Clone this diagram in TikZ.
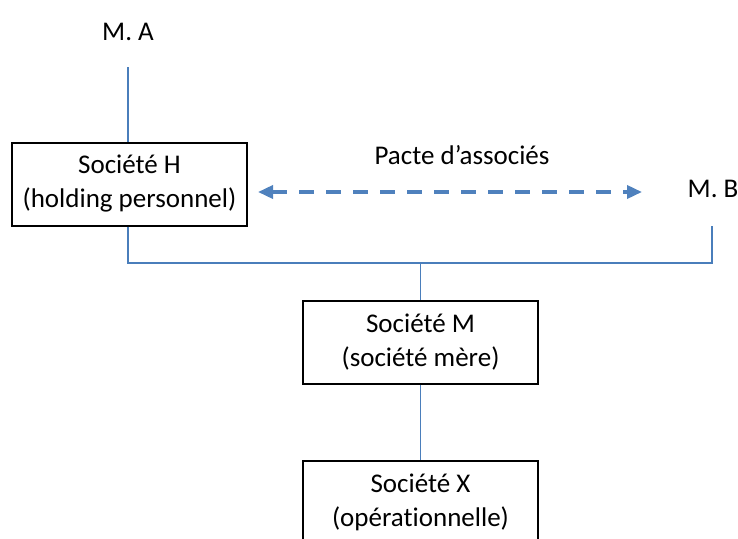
\documentclass[tikz,border=0pt]{standalone}
\usepackage{fontspec}
\setmainfont{Carlito}[Ligatures={NoCommon}]
\usetikzlibrary{arrows.meta}
\definecolor{lineblue}{HTML}{4A7EBB}
\definecolor{arrblue}{HTML}{4F81BD}
\begin{document}
\begin{tikzpicture}[x=1pt,y=-1pt,
  every node/.style={font=\fontsize{27}{34}\selectfont, align=center, inner sep=0pt},
  box/.style={draw=black, line width=2pt, minimum width=235pt, minimum height=83pt},
  conn/.style={draw=lineblue, line width=1.6pt},
  pacte/.style={draw=arrblue, line width=3.5pt, dash pattern=on 15pt off 12pt,
    {Triangle[length=15pt,width=13pt]}-{Triangle[length=15pt,width=13pt]}}]
\useasboundingbox (0,0) rectangle (738,538);
\clip (0,0) rectangle (738,538);
\node (ma) at (128,32) {M. A};
\coordinate (maend) at (128,67);
\node[box] (h) at (129.5,184) {Société H\\(holding personnel)};
\node (mb) at (713,189) {M. B};
\coordinate (mbend) at (712,226);
\coordinate (bus) at (420.5,263);
\node[box] (m) at (420.5,342) {Société M\\(société mère)};
\node[box] (x) at (420.5,502) {Société X\\(opérationnelle)};
\node (pl) at (462,155) {Pacte d’associés};
\coordinate (pa) at (258,192);
\coordinate (pb) at (642,192);
\draw[conn] (maend) -- (h.north -| maend);
\draw[conn] (h.south -| maend) -- (maend |- bus) -- (mbend |- bus) -- (mbend);
\draw[conn] (bus) -- (bus |- m.north);
\draw[conn] (m.south) -- (x.north);
\draw[pacte] (pa) -- (pb);
\end{tikzpicture}
\end{document}
